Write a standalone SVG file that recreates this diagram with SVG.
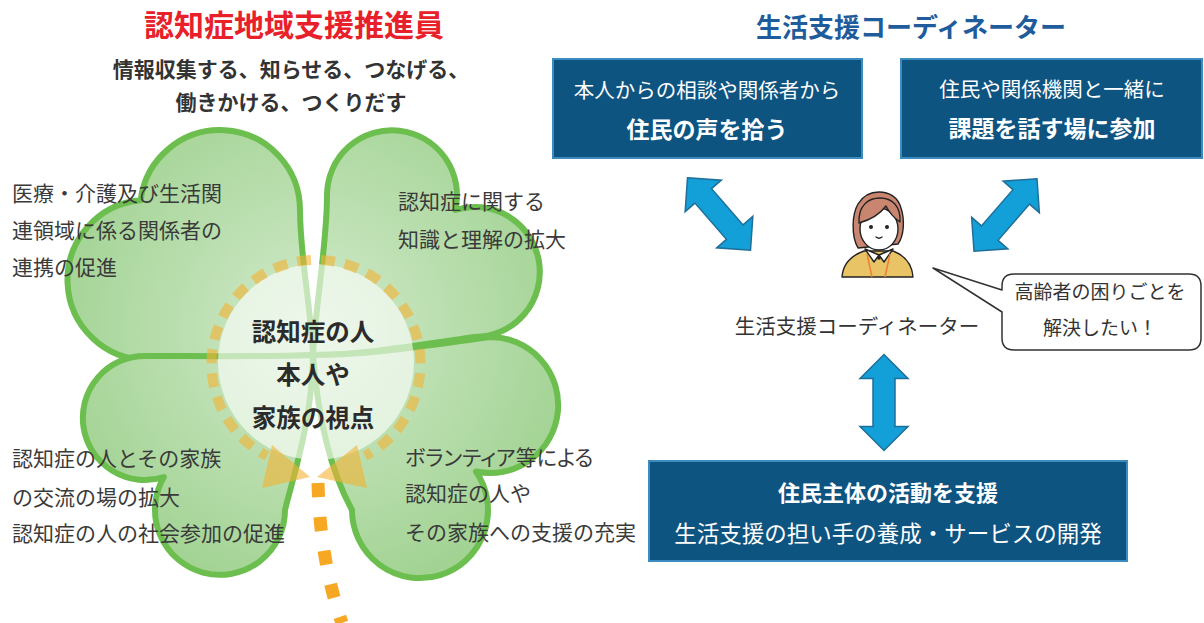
<svg xmlns="http://www.w3.org/2000/svg" width="1204" height="623" viewBox="0 0 1204 623">
  <style>
    text { font-family: "Noto Sans CJK JP", "Noto Sans", sans-serif; }
    .title-red { fill: #e8202a; font-weight: 700; font-size: 30px; }
    .title-blue { fill: #1e5c9b; font-weight: 700; font-size: 26px; }
    .sub { fill: #333; font-weight: 700; font-size: 21px; }
    .leaf-txt { fill: #3a3a3a; font-size: 21px; }
    .center-txt { fill: #2b2b2b; font-weight: 700; font-size: 24.5px; }
    .box { fill: #0e5481; stroke: #3d8cbf; stroke-width: 2; }
    .box-txt { fill: #ffffff; font-size: 20.5px; }
    .box-bold { fill: #ffffff; font-weight: 700; font-size: 23px; }
    .leaf { fill: url(#leafGrad); stroke: #6cbf4f; stroke-width: 6; stroke-linejoin: round; }
    .ring { fill: none; stroke: #f4b232; stroke-opacity: 0.6; stroke-width: 10; stroke-dasharray: 14 10; stroke-dashoffset: -5; }
    .ring-head { fill: #f4b232; fill-opacity: 0.6; }
    .blue-arrow { fill: #139fd8; stroke: #1f6f99; stroke-width: 1.5; stroke-linejoin: miter; }
    .outline { stroke: #222; stroke-width: 1.4; stroke-linejoin: round; }
    .palt { font-feature-settings: "palt"; }
  </style>
  <defs>
    <radialGradient id="leafGrad" gradientUnits="userSpaceOnUse" cx="313" cy="330" r="270">
      <stop offset="0" stop-color="#d2eacb"/>
      <stop offset="1" stop-color="#a2d393"/>
    </radialGradient>
    <path id="dblArrow" d="M-48,0 L-24,-24 L-24,-11 L24,-11 L24,-24 L48,0 L24,24 L24,11 L-24,11 L-24,24 Z"/>
  </defs>

  <rect width="1204" height="623" fill="#ffffff"/>

  <!-- Left heading -->
  <g id="heading-left">
    <text class="title-red" x="294" y="36" text-anchor="middle">認知症地域支援推進員</text>
    <text class="sub" x="291" y="77" text-anchor="middle">情報収集する、知らせる、つなげる、</text>
    <text class="sub" x="291" y="110" text-anchor="middle">働きかける、つくりだす</text>
  </g>

  <!-- Four-leaf clover -->
  <g id="clover">
    <path class="leaf" d="M313,355 C310,300 300,255 300,210 A80,80 0 0,0 140.6,200.3 A80,80 0 0,0 148,360 C200,360 270,357 313,355 Z"/>
    <path class="leaf" d="M313,355 C316,300 327,245 327,195 A65,65 0 1,1 455.3,210 A65,65 0 1,1 475,337 C420,345 360,355 313,355 Z"/>
    <path class="leaf" d="M313,355 C260,357 200,356 145,356 A62,62 0 1,0 163.9,477 A65,65 0 1,0 285,510 C295,470 312,420 313,355 Z"/>
    <path class="leaf" d="M313,355 C318,420 330,470 352,510 A68,68 0 1,0 476,471.5 A68,68 0 1,0 490,337 C430,345 370,355 313,355 Z"/>
    <!-- translucent centre -->
    <circle cx="316" cy="362" r="98" fill="#ffffff" fill-opacity="0.6"/>
    <!-- dashed ring closing in on the stem -->
    <path class="ring" d="M316,260 A104,104 0 0,0 267,456"/>
    <path class="ring" d="M316,260 A104,104 0 0,1 365,456"/>
    <polygon class="ring-head" points="272,445 262,488 310,477"/>
    <polygon class="ring-head" points="357,445 367,488 317,477"/>
    <!-- stem -->
    <path d="M318,483 Q320,560 342,623" fill="none" stroke="#f7a823" stroke-width="13" stroke-dasharray="14 20"/>
  </g>

  <g id="clover-centre">
    <text class="center-txt" x="313" y="341" text-anchor="middle">認知症の人</text>
    <text class="center-txt" x="313" y="384" text-anchor="middle">本人や</text>
    <text class="center-txt" x="313" y="427" text-anchor="middle">家族の視点</text>
  </g>

  <g id="leaf-top-left">
    <text class="leaf-txt" x="12" y="201">医療・介護及び生活関</text>
    <text class="leaf-txt" x="12" y="238">連領域に係る関係者の</text>
    <text class="leaf-txt" x="12" y="275">連携の促進</text>
  </g>
  <g id="leaf-top-right">
    <text class="leaf-txt" x="398" y="209">認知症に関する</text>
    <text class="leaf-txt" x="398" y="247">知識と理解の拡大</text>
  </g>
  <g id="leaf-bottom-left">
    <text class="leaf-txt" x="12" y="466">認知症の人とその家族</text>
    <text class="leaf-txt" x="12" y="505">の交流の場の拡大</text>
    <text class="leaf-txt" x="12" y="541">認知症の人の社会参加の促進</text>
  </g>
  <g id="leaf-bottom-right">
    <text class="leaf-txt palt" x="405" y="465">ボランティア等による</text>
    <text class="leaf-txt" x="405" y="501">認知症の人や</text>
    <text class="leaf-txt" x="405" y="540">その家族への支援の充実</text>
  </g>

  <!-- Right heading -->
  <g id="heading-right">
    <text class="title-blue" x="911" y="37" text-anchor="middle">生活支援コーディネーター</text>
  </g>

  <g id="box-voice">
    <rect class="box" x="553" y="59" width="309" height="99"/>
    <text class="box-txt" x="707" y="97.5" text-anchor="middle">本人からの相談や関係者から</text>
    <text class="box-bold" x="707" y="137.5" text-anchor="middle">住民の声を拾う</text>
  </g>

  <g id="box-meeting">
    <rect class="box" x="901" y="59" width="301" height="99"/>
    <text class="box-txt" x="1052" y="96.5" text-anchor="middle">住民や関係機関と一緒に</text>
    <text class="box-bold" x="1052" y="136.5" text-anchor="middle">課題を話す場に参加</text>
  </g>

  <g id="box-support">
    <rect class="box" x="649" y="461" width="478" height="100"/>
    <text class="box-txt" x="888" y="500.5" text-anchor="middle" style="font-weight:700;font-size:22px">住民主体の活動を支援</text>
    <text class="box-txt" x="888" y="541.5" text-anchor="middle" style="font-size:22.5px">生活支援の担い手の養成・サービスの開発</text>
  </g>

  <!-- Coordinator figure -->
  <g id="coordinator">
    <!-- sweater -->
    <path class="outline" fill="#e8c466" d="M842,277 C843,264 850,256 864,251 L893,251 C906,256 912,264 913,277 Z"/>
    <!-- hair, back -->
    <path class="outline" fill="#c88570" d="M858,248 C851,236 852,214 858,204 C864,194 872,192 879,192 C889,192 898,197 901,208 C905,220 904,236 898,244 Z"/>
    <!-- face -->
    <ellipse class="outline" cx="879" cy="229" rx="19" ry="21" fill="#ffffff"/>
    <!-- fringe -->
    <path class="outline" fill="#c88570" d="M859,223 C858,206 868,198 880,198 C892,198 901,206 900,222 C894,218 889,212 886,206 C880,214 870,220 859,223 Z"/>
    <!-- eyes and mouth -->
    <circle cx="871" cy="227" r="2" fill="#222"/>
    <circle cx="887" cy="227" r="2" fill="#222"/>
    <path d="M876,237 Q879,239.5 882,237" fill="none" stroke="#222" stroke-width="1.3" stroke-linecap="round"/>
    <!-- collar -->
    <path class="outline" fill="#ffffff" d="M865,249 L879,255 L874,262 Z"/>
    <path class="outline" fill="#ffffff" d="M893,249 L879,255 L884,262 Z"/>
    <circle cx="879" cy="258" r="1.8" fill="#222"/>
    <!-- lanyard -->
    <path d="M867,254 L872,277 M890,254 L885,277" fill="none" stroke="#f07f33" stroke-width="1.5"/>
  </g>

  <g id="coordinator-label">
    <text x="857" y="334" text-anchor="middle" fill="#333" style="font-size:20.5px">生活支援コーディネーター</text>
  </g>

  <g id="speech-bubble">
    <path d="M1014,274 H1189 Q1201,274 1201,286 V338 Q1201,350 1189,350 H1014 Q1002,350 1002,338 V312 L933,268 L1002,290 V286 Q1002,274 1014,274 Z" fill="#ffffff" stroke="#333" stroke-width="1.5" stroke-linejoin="round"/>
    <text x="1100" y="299" text-anchor="middle" fill="#333" style="font-size:19px">高齢者の困りごとを</text>
    <text x="1100" y="335" text-anchor="middle" fill="#333" style="font-size:19px">解決したい！</text>
  </g>

  <!-- Connectors -->
  <g id="connectors">
    <use href="#dblArrow" class="blue-arrow" transform="translate(719,214) rotate(49)"/>
    <use href="#dblArrow" class="blue-arrow" transform="translate(1005.5,215) rotate(-49)"/>
    <use href="#dblArrow" class="blue-arrow" transform="translate(884,402.5) rotate(90)"/>
  </g>
</svg>
